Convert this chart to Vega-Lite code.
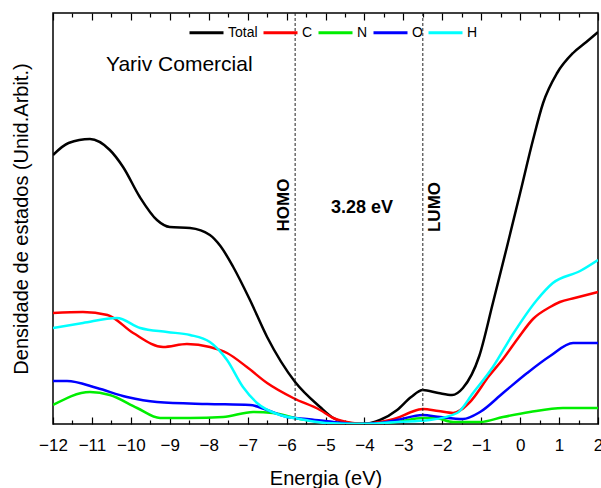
{
  "$schema": "https://vega.github.io/schema/vega-lite/v6.json",
  "width": 545,
  "height": 411,
  "autosize": {"type": "none"},
  "padding": {"left": 53, "top": 13, "right": 3, "bottom": 64},
  "config": {
    "font": "Liberation Sans",
    "view": {"stroke": "black", "strokeWidth": 1.5},
    "axis": {"grid": false, "labelColor": "black", "titleColor": "black", "tickColor": "black", "domain": false}
  },
  "resolve": {"axis": {"x": "independent"}},
  "layer": [
    {
      "data": {"values": [
        {"E": -12, "v": 269, "s": "Total"}, {"E": -11.6, "v": 281, "s": "Total"}, {"E": -11.05, "v": 285, "s": "Total"}, {"E": -10.54, "v": 274, "s": "Total"}, {"E": -10.2, "v": 257, "s": "Total"}, {"E": -9.77, "v": 227, "s": "Total"}, {"E": -9.33, "v": 204, "s": "Total"}, {"E": -9.0, "v": 197, "s": "Total"}, {"E": -8.48, "v": 196, "s": "Total"}, {"E": -7.97, "v": 189, "s": "Total"}, {"E": -7.7, "v": 178, "s": "Total"}, {"E": -7.37, "v": 157, "s": "Total"}, {"E": -6.94, "v": 124, "s": "Total"}, {"E": -6.5, "v": 87, "s": "Total"}, {"E": -5.78, "v": 42, "s": "Total"}, {"E": -5.14, "v": 17, "s": "Total"}, {"E": -4.8, "v": 6, "s": "Total"}, {"E": -4.4, "v": 1, "s": "Total"}, {"E": -4.05, "v": 0, "s": "Total"}, {"E": -3.6, "v": 4, "s": "Total"}, {"E": -3.16, "v": 14, "s": "Total"}, {"E": -2.8, "v": 27, "s": "Total"}, {"E": -2.5, "v": 34, "s": "Total"}, {"E": -2.1, "v": 31, "s": "Total"}, {"E": -1.75, "v": 29, "s": "Total"}, {"E": -1.47, "v": 36, "s": "Total"}, {"E": -1.05, "v": 68, "s": "Total"}, {"E": -0.7, "v": 121, "s": "Total"}, {"E": -0.34, "v": 177, "s": "Total"}, {"E": 0, "v": 231, "s": "Total"}, {"E": 0.33, "v": 284, "s": "Total"}, {"E": 0.59, "v": 321, "s": "Total"}, {"E": 0.95, "v": 351, "s": "Total"}, {"E": 1.36, "v": 371, "s": "Total"}, {"E": 1.7, "v": 382, "s": "Total"}, {"E": 2, "v": 392, "s": "Total"},
        {"E": -12, "v": 111, "s": "C"}, {"E": -11.23, "v": 112, "s": "C"}, {"E": -10.6, "v": 109, "s": "C"}, {"E": -9.94, "v": 91, "s": "C"}, {"E": -9.17, "v": 77, "s": "C"}, {"E": -8.56, "v": 80, "s": "C"}, {"E": -7.97, "v": 77, "s": "C"}, {"E": -7.53, "v": 71, "s": "C"}, {"E": -7.02, "v": 57, "s": "C"}, {"E": -6.5, "v": 41, "s": "C"}, {"E": -5.83, "v": 26, "s": "C"}, {"E": -5.14, "v": 14, "s": "C"}, {"E": -4.8, "v": 6, "s": "C"}, {"E": -4.3, "v": 1, "s": "C"}, {"E": -4, "v": 0, "s": "C"}, {"E": -3.6, "v": 2, "s": "C"}, {"E": -3.16, "v": 6, "s": "C"}, {"E": -2.8, "v": 12, "s": "C"}, {"E": -2.5, "v": 15, "s": "C"}, {"E": -2.1, "v": 13, "s": "C"}, {"E": -1.72, "v": 11, "s": "C"}, {"E": -1.29, "v": 22, "s": "C"}, {"E": -0.8, "v": 48, "s": "C"}, {"E": -0.44, "v": 65, "s": "C"}, {"E": -0.05, "v": 86, "s": "C"}, {"E": 0.33, "v": 105, "s": "C"}, {"E": 0.77, "v": 117, "s": "C"}, {"E": 1.02, "v": 122, "s": "C"}, {"E": 1.4, "v": 126, "s": "C"}, {"E": 2, "v": 132, "s": "C"},
        {"E": -12, "v": 19, "s": "N"}, {"E": -11.05, "v": 32, "s": "N"}, {"E": -10.54, "v": 29, "s": "N"}, {"E": -9.84, "v": 16, "s": "N"}, {"E": -9.25, "v": 6, "s": "N"}, {"E": -8.48, "v": 6, "s": "N"}, {"E": -7.63, "v": 7, "s": "N"}, {"E": -6.86, "v": 12, "s": "N"}, {"E": -6.35, "v": 11, "s": "N"}, {"E": -5.66, "v": 5, "s": "N"}, {"E": -5, "v": 2, "s": "N"}, {"E": -4.2, "v": 0, "s": "N"}, {"E": -3.2, "v": 2, "s": "N"}, {"E": -2.5, "v": 6, "s": "N"}, {"E": -2.2, "v": 6, "s": "N"}, {"E": -1.72, "v": 2, "s": "N"}, {"E": -1.03, "v": 2, "s": "N"}, {"E": -0.44, "v": 7, "s": "N"}, {"E": 0.25, "v": 12, "s": "N"}, {"E": 1.1, "v": 16, "s": "N"}, {"E": 2, "v": 16, "s": "N"},
        {"E": -12, "v": 43, "s": "O"}, {"E": -11.64, "v": 43, "s": "O"}, {"E": -10.87, "v": 36, "s": "O"}, {"E": -10.1, "v": 27, "s": "O"}, {"E": -9.33, "v": 22, "s": "O"}, {"E": -8.04, "v": 20, "s": "O"}, {"E": -6.94, "v": 19, "s": "O"}, {"E": -6.5, "v": 14, "s": "O"}, {"E": -5.99, "v": 7, "s": "O"}, {"E": -5.48, "v": 5, "s": "O"}, {"E": -4.8, "v": 2, "s": "O"}, {"E": -4.2, "v": 0, "s": "O"}, {"E": -3.6, "v": 1, "s": "O"}, {"E": -3.16, "v": 4, "s": "O"}, {"E": -2.5, "v": 9, "s": "O"}, {"E": -2.06, "v": 7, "s": "O"}, {"E": -1.47, "v": 5, "s": "O"}, {"E": -1.03, "v": 12, "s": "O"}, {"E": -0.44, "v": 31, "s": "O"}, {"E": 0.18, "v": 51, "s": "O"}, {"E": 0.77, "v": 68, "s": "O"}, {"E": 1.36, "v": 81, "s": "O"}, {"E": 2, "v": 81, "s": "O"},
        {"E": -12, "v": 96, "s": "H"}, {"E": -11.23, "v": 101, "s": "H"}, {"E": -10.36, "v": 106, "s": "H"}, {"E": -9.76, "v": 96, "s": "H"}, {"E": -9.07, "v": 92, "s": "H"}, {"E": -8.48, "v": 89, "s": "H"}, {"E": -7.97, "v": 82, "s": "H"}, {"E": -7.53, "v": 64, "s": "H"}, {"E": -7.12, "v": 37, "s": "H"}, {"E": -6.76, "v": 21, "s": "H"}, {"E": -6.17, "v": 9, "s": "H"}, {"E": -5.66, "v": 5, "s": "H"}, {"E": -5, "v": 1, "s": "H"}, {"E": -4, "v": 0, "s": "H"}, {"E": -3.16, "v": 2, "s": "H"}, {"E": -2.32, "v": 4, "s": "H"}, {"E": -1.62, "v": 11, "s": "H"}, {"E": -1.21, "v": 31, "s": "H"}, {"E": -0.7, "v": 57, "s": "H"}, {"E": -0.2, "v": 89, "s": "H"}, {"E": 0.43, "v": 124, "s": "H"}, {"E": 0.84, "v": 141, "s": "H"}, {"E": 1.54, "v": 153, "s": "H"}, {"E": 2, "v": 164, "s": "H"}
      ]},
      "mark": {"type": "line", "interpolate": "monotone", "strokeWidth": 2.5, "clip": true},
      "encoding": {
        "x": {"field": "E", "type": "quantitative", "scale": {"domain": [-12, 2], "nice": false, "zero": false},
          "axis": {"orient": "bottom", "title": "Energia (eV)", "titleFontSize": 20, "titleFontWeight": "normal", "titlePadding": 12,
            "values": [-12, -11.5, -11, -10.5, -10, -9.5, -9, -8.5, -8, -7.5, -7, -6.5, -6, -5.5, -5, -4.5, -4, -3.5, -3, -2.5, -2, -1.5, -1, -0.5, 0, 0.5, 1, 1.5, 2],
            "labelExpr": "datum.value % 1 == 0 ? format(datum.value, 'd') : ''",
            "labelFontSize": 17, "labelOverlap": false, "labelFlush": false, "labelPadding": 20,
            "tickSize": {"condition": {"test": "datum.value % 1 == 0", "value": -7}, "value": -4}, "tickWidth": 1.2}},
        "y": {"field": "v", "type": "quantitative", "scale": {"domain": [0, 411], "nice": false},
          "axis": {"title": "Densidade de estados (Unid.Arbit.)", "titleFontSize": 20, "titleFontWeight": "normal", "labels": false, "ticks": false, "titlePadding": 22}},
        "color": {"field": "s", "type": "nominal", "sort": ["Total", "C", "N", "O", "H"],
          "scale": {"domain": ["Total", "C", "N", "O", "H"], "range": ["#000000", "#ff0000", "#00ee00", "#0000ff", "#00ffff"]},
          "legend": {"title": null, "orient": "none", "direction": "horizontal", "legendX": 135, "legendY": 1,
            "symbolType": "stroke", "symbolSize": 1156, "symbolStrokeWidth": 3, "labelFontSize": 14, "labelOffset": 3, "columnPadding": -1, "labelColor": "black"}}
      }
    },
    {
      "data": {"values": [{"E": -5.78, "name": "HOMO"}, {"E": -2.5, "name": "LUMO"}]},
      "mark": {"type": "rule", "strokeDash": [3, 2], "strokeWidth": 1, "color": "#222222"},
      "encoding": {
        "x": {"field": "E", "type": "quantitative",
          "axis": {"orient": "top", "title": null, "labels": false,
            "values": [-12, -11.5, -11, -10.5, -10, -9.5, -9, -8.5, -8, -7.5, -7, -6.5, -6, -5.5, -5, -4.5, -4, -3.5, -3, -2.5, -2, -1.5, -1, -0.5, 0, 0.5, 1, 1.5, 2],
            "tickSize": {"condition": {"test": "datum.value % 1 == 0", "value": -7}, "value": -4}, "tickWidth": 1.2}}
      }
    },
    {
      "data": {"values": [
        {"E": -6.07, "v": 219, "t": "HOMO"},
        {"E": -2.2, "v": 217, "t": "LUMO"}
      ]},
      "mark": {"type": "text", "angle": 270, "fontWeight": "bold", "fontSize": 17, "align": "center", "baseline": "middle", "color": "black"},
      "encoding": {
        "x": {"field": "E", "type": "quantitative", "axis": null},
        "y": {"field": "v", "type": "quantitative",
          "axis": {"title": "Densidade de estados (Unid.Arbit.)", "titleFontSize": 20, "titleFontWeight": "normal", "labels": false, "ticks": false, "titlePadding": 22}},
        "text": {"field": "t"}
      }
    },
    {
      "data": {"values": [{"E": -4.06, "v": 216, "t": "3.28 eV"}]},
      "mark": {"type": "text", "fontWeight": "bold", "fontSize": 18, "align": "center", "baseline": "middle", "color": "black"},
      "encoding": {
        "x": {"field": "E", "type": "quantitative", "axis": null},
        "y": {"field": "v", "type": "quantitative",
          "axis": {"title": "Densidade de estados (Unid.Arbit.)", "titleFontSize": 20, "titleFontWeight": "normal", "labels": false, "ticks": false, "titlePadding": 22}},
        "text": {"field": "t"}
      }
    },
    {
      "data": {"values": [{"E": -10.64, "v": 359, "t": "Yariv Comercial"}]},
      "mark": {"type": "text", "fontSize": 21, "align": "left", "baseline": "middle", "color": "black"},
      "encoding": {
        "x": {"field": "E", "type": "quantitative", "axis": null},
        "y": {"field": "v", "type": "quantitative",
          "axis": {"title": "Densidade de estados (Unid.Arbit.)", "titleFontSize": 20, "titleFontWeight": "normal", "labels": false, "ticks": false, "titlePadding": 22}},
        "text": {"field": "t"}
      }
    }
  ]
}
